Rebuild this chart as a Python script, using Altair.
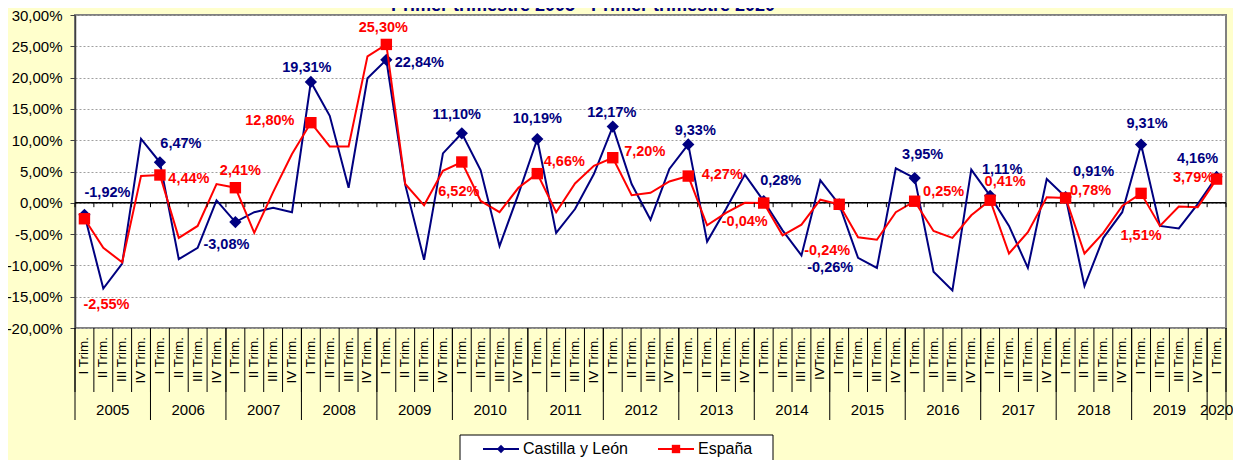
import altair as alt
import pandas as pd

# ---------------- data ----------------
title_text = "Primer trimestre 2005 - Primer trimestre 2020"
series_names = ["Castilla y León", "España"]
years = [str(y) for y in range(2005, 2021)]
quarter_names = ["I Trim.", "II Trim.", "III Trim.", "IV Trim."]

tick_labels = [q for _ in range(2005, 2020) for q in quarter_names] + ["I Trim."]
tick_labels[39] = "IVTrim."  # as written in the original (2014)

cyl = [
    -1.92, -13.7, -9.7, 10.2,
    6.47, -9.0, -7.2, 0.4,
    -3.08, -1.5, -0.8, -1.5,
    19.31, 13.9, 2.4, 19.9,
    22.84, 2.9, -9.1, 7.9,
    11.10, 5.2, -6.9, 1.4,
    10.19, -4.8, -1.0, 4.6,
    12.17, 3.0, -2.7, 5.4,
    9.33, -6.2, -1.0, 4.5,
    0.28, -4.4, -8.4, 3.6,
    -0.26, -8.8, -10.4, 5.5,
    3.95, -11.0, -14.0, 5.3,
    1.11, -3.7, -10.4, 3.8,
    0.91, -13.3, -5.6, -1.5,
    9.31, -3.7, -4.1, -0.2,
    4.16,
]
esp = [
    -2.55, -7.2, -9.5, 4.3,
    4.44, -5.6, -3.7, 3.0,
    2.41, -4.8, 1.7, 7.8,
    12.80, 9.0, 9.0, 23.4,
    25.30, 3.0, -0.4, 5.1,
    6.52, 0.3, -1.5, 2.4,
    4.66, -1.5, 3.1, 5.9,
    7.20, 1.2, 1.6, 3.4,
    4.27, -3.6, -1.6, 0.0,
    -0.04, -5.2, -3.5, 0.5,
    -0.24, -5.5, -5.9, -1.5,
    0.25, -4.5, -5.6, -2.0,
    0.41, -8.1, -4.7, 0.9,
    0.78, -8.1, -4.8, -0.5,
    1.51, -3.7, -0.6, -0.7,
    3.79,
]

# label placement (pixel offsets from the marker), style only
cyl_dx = [23, 21, -9, -4, 33, -5, 0, -1, 7, 17, -9, 8, 12, 28, 6, -19]
cyl_dy = [-22, -18, 23, -14, 3, -18, -20, -14, -13, -20, 64, -23, -26, -25, -21, -18]
esp_dx = [22, 29, 5, -41, -3, -3, 27, 32, 34, -19, -12, 29, 15, 25, 0, -23]
esp_dy = [86, 4, -17, -2, -16, 30, -12, -6, -1, 19, 47, -9, -18, -7, 43, -1]

BLUE = "#000080"
RED = "#FF0000"
FONT = "Liberation Sans"

# ---------------- tables ----------------
n = len(tick_labels)
df = pd.DataFrame({"i": list(range(n)), "tick": tick_labels})
long = pd.concat([
    pd.DataFrame({"i": range(n), "value": cyl, "serie": series_names[0]}),
    pd.DataFrame({"i": range(n), "value": esp, "serie": series_names[1]}),
])


def fmt(v):
    return f"{v:.2f}".replace(".", ",") + "%"


first_idx = list(range(0, n, 4))
lab_cyl = pd.DataFrame({
    "i": first_idx, "value": [cyl[k] for k in first_idx],
    "txt": [fmt(cyl[k]) for k in first_idx],
})
lab_esp = pd.DataFrame({
    "i": first_idx, "value": [esp[k] for k in first_idx],
    "txt": [fmt(esp[k]) for k in first_idx],
})

seps = pd.DataFrame({"x": [k - 0.5 for k in range(n + 1)]})
seps["z0"] = 0.0
seps["z1"] = -0.7
year_seps = pd.DataFrame({"x": [k * 4 - 0.5 for k in range(16)] + [n - 0.5]})
year_lab = pd.DataFrame({
    "year": years,
    "xc": [k * 4 + 1.5 for k in range(15)] + [n - 1],
})
zero_df = pd.DataFrame({"z": [0.0]})
one = pd.DataFrame({"a": [0]})

# ---------------- scales ----------------
xs = alt.Scale(domain=[-0.5, n - 0.5], nice=False, zero=False)
ys = alt.Scale(domain=[-20, 30], nice=False, zero=False)
yaxis = alt.Axis(
    values=list(range(-20, 35, 5)),
    labelExpr="(datum.value < 0 ? '-' : '') + replace(format(abs(datum.value), '.2f'), '.', ',') + '%'",
    grid=True, gridDash=[2, 2], gridColor="#A0A0A0", gridWidth=1,
    domainColor="#404040", domainWidth=1.5, tickColor="#404040", tickSize=5,
    labelPadding=8, labelFontSize=15, labelFont=FONT, labelColor="black",
    title=None,
)


def X(field):
    return alt.X(field, scale=xs, axis=None)


def Y(field):
    return alt.Y(field, scale=ys, axis=yaxis)


# ---------------- layers ----------------
zero_line = alt.Chart(zero_df).mark_rule(color="black", strokeWidth=1.5).encode(y=Y("z:Q"))
zero_ticks = alt.Chart(seps).mark_rule(color="black", strokeWidth=1).encode(
    x=X("x:Q"), y=Y("z0:Q"), y2="z1:Q")

line_cyl = alt.Chart(long[long.serie == series_names[0]]).mark_line(
    color=BLUE, strokeWidth=2).encode(x=X("i:Q"), y=Y("value:Q"))
line_esp = alt.Chart(long[long.serie == series_names[1]]).mark_line(
    color=RED, strokeWidth=2).encode(x=X("i:Q"), y=Y("value:Q"))
pts_cyl = alt.Chart(lab_cyl).mark_point(
    shape="diamond", filled=True, color=BLUE, size=150, opacity=1).encode(x=X("i:Q"), y=Y("value:Q"))
pts_esp = alt.Chart(lab_esp).mark_point(
    shape="square", filled=True, color=RED, size=130, opacity=1).encode(x=X("i:Q"), y=Y("value:Q"))

label_layers = []
for frame, dxs, dys, col in [(lab_cyl, cyl_dx, cyl_dy, BLUE), (lab_esp, esp_dx, esp_dy, RED)]:
    for r in range(len(frame)):
        label_layers.append(
            alt.Chart(frame.iloc[[r]]).mark_text(
                font=FONT, fontSize=14.5, fontWeight="bold", color=col,
                align="center", baseline="middle", dx=dxs[r], dy=dys[r],
            ).encode(x=X("i:Q"), y=Y("value:Q"), text="txt:N")
        )

# category axis drawn below the plot
q_seps = alt.Chart(seps).mark_rule(color="black", strokeWidth=1).encode(
    x=X("x:Q"), y=alt.value(313), y2=alt.value(377))
y_seps = alt.Chart(year_seps).mark_rule(color="black", strokeWidth=1).encode(
    x=X("x:Q"), y=alt.value(313), y2=alt.value(405))
q_labels = alt.Chart(df).mark_text(
    font=FONT, fontSize=13.5, angle=270, align="right", baseline="middle", color="black"
).encode(x=X("i:Q"), y=alt.value(322), text="tick:N")
y_labels = alt.Chart(year_lab).mark_text(
    font=FONT, fontSize=15, align="center", baseline="middle", color="black"
).encode(x=X("xc:Q"), y=alt.value(395), text="year:N")

# legend (drawn by hand)
leg_y = 434
leg_box = alt.Chart(one).mark_rect(fill="white", stroke="black", strokeWidth=1).encode(
    x=alt.value(385), x2=alt.value(698), y=alt.value(420), y2=alt.value(470))
leg_l1 = alt.Chart(one).mark_rule(color=BLUE, strokeWidth=2).encode(
    x=alt.value(408), x2=alt.value(444), y=alt.value(leg_y))
leg_p1 = alt.Chart(one).mark_point(shape="diamond", filled=True, color=BLUE, size=70, opacity=1).encode(
    x=alt.value(426), y=alt.value(leg_y))
leg_t1 = alt.Chart(one).mark_text(font=FONT, fontSize=16, align="left", baseline="middle", color="black").encode(
    x=alt.value(448), y=alt.value(leg_y), text=alt.value(series_names[0]))
leg_l2 = alt.Chart(one).mark_rule(color=RED, strokeWidth=2).encode(
    x=alt.value(583), x2=alt.value(619), y=alt.value(leg_y))
leg_p2 = alt.Chart(one).mark_point(shape="square", filled=True, color=RED, size=70, opacity=1).encode(
    x=alt.value(601), y=alt.value(leg_y))
leg_t2 = alt.Chart(one).mark_text(font=FONT, fontSize=16, align="left", baseline="middle", color="black").encode(
    x=alt.value(623), y=alt.value(leg_y), text=alt.value(series_names[1]))

title = alt.Chart(one).mark_text(
    font=FONT, fontSize=18, fontWeight="bold", color=BLUE, align="center", baseline="alphabetic"
).encode(x=alt.value(508), y=alt.value(-4), text=alt.value(title_text))

chart = alt.layer(
    zero_line, line_cyl, pts_cyl, line_esp, pts_esp, zero_ticks,
    *label_layers,
    q_seps, y_seps, q_labels, y_labels,
    leg_box, leg_l1, leg_p1, leg_t1, leg_l2, leg_p2, leg_t2,
    title,
).properties(
    width=1151, height=313,
    autosize=alt.AutoSizeParams(type="none"),
    padding={"left": 67, "top": 7, "right": 7, "bottom": 132},
    background="#FFFFCC",
).configure_view(
    fill="white", stroke="#808080", strokeWidth=2,
)

chart.save("out.html", embed_options={"renderer": "svg", "actions": False})
